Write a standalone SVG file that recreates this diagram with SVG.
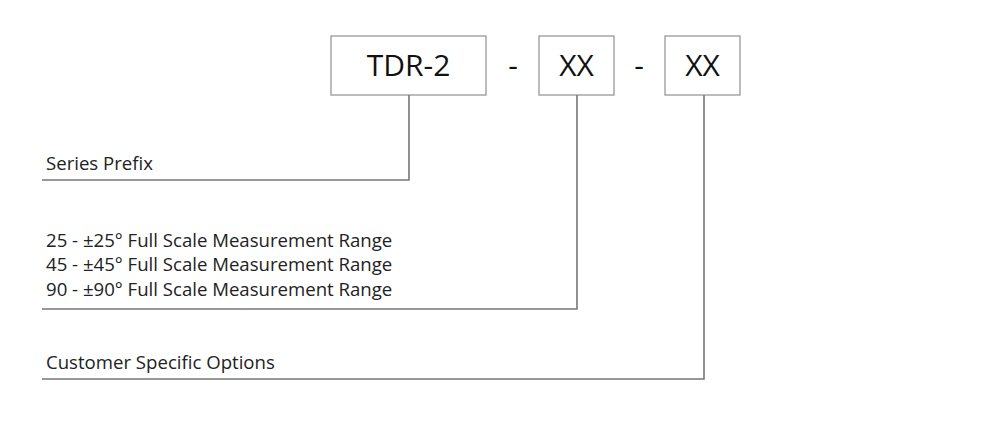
<svg xmlns="http://www.w3.org/2000/svg" width="995" height="423" viewBox="0 0 995 423">
<style>
.box{fill:#fff;stroke:#999;stroke-width:1.3}
.bt{font-family:"Open Sans","Noto Sans",sans-serif;font-size:30px;fill:#111;text-anchor:middle}
.lb{font-family:"Open Sans","Noto Sans",sans-serif;font-size:18.6px;fill:#222}
.ln{fill:none;stroke:#777;stroke-width:1.6}
</style>
<rect width="995" height="423" fill="#fff"/>
<g id="node-tdr"><rect class="box" x="331" y="36" width="155" height="59"/><text class="bt" x="408.5" y="76">TDR-2</text></g>
<g id="dash1"><text class="bt" x="513" y="76">-</text></g>
<g id="node-xx1"><rect class="box" x="539" y="36" width="75" height="59"/><text class="bt" x="576.5" y="76">XX</text></g>
<g id="dash2"><text class="bt" x="639" y="76">-</text></g>
<g id="node-xx2"><rect class="box" x="665" y="36" width="75" height="59"/><text class="bt" x="702.5" y="76">XX</text></g>
<g id="connectors">
<polyline class="ln" points="409,95 409,180 42,180"/>
<polyline class="ln" points="577,95 577,309 42,309"/>
<polyline class="ln" points="704,95 704,379 42,379"/>
</g>
<g id="labels">
<text class="lb" x="46" y="170">Series Prefix</text>
<text class="lb" x="46" y="247">25 - ±25° Full Scale Measurement Range</text>
<text class="lb" x="46" y="271">45 - ±45° Full Scale Measurement Range</text>
<text class="lb" x="46" y="296">90 - ±90° Full Scale Measurement Range</text>
<text class="lb" x="46" y="369">Customer Specific Options</text>
</g>
</svg>
